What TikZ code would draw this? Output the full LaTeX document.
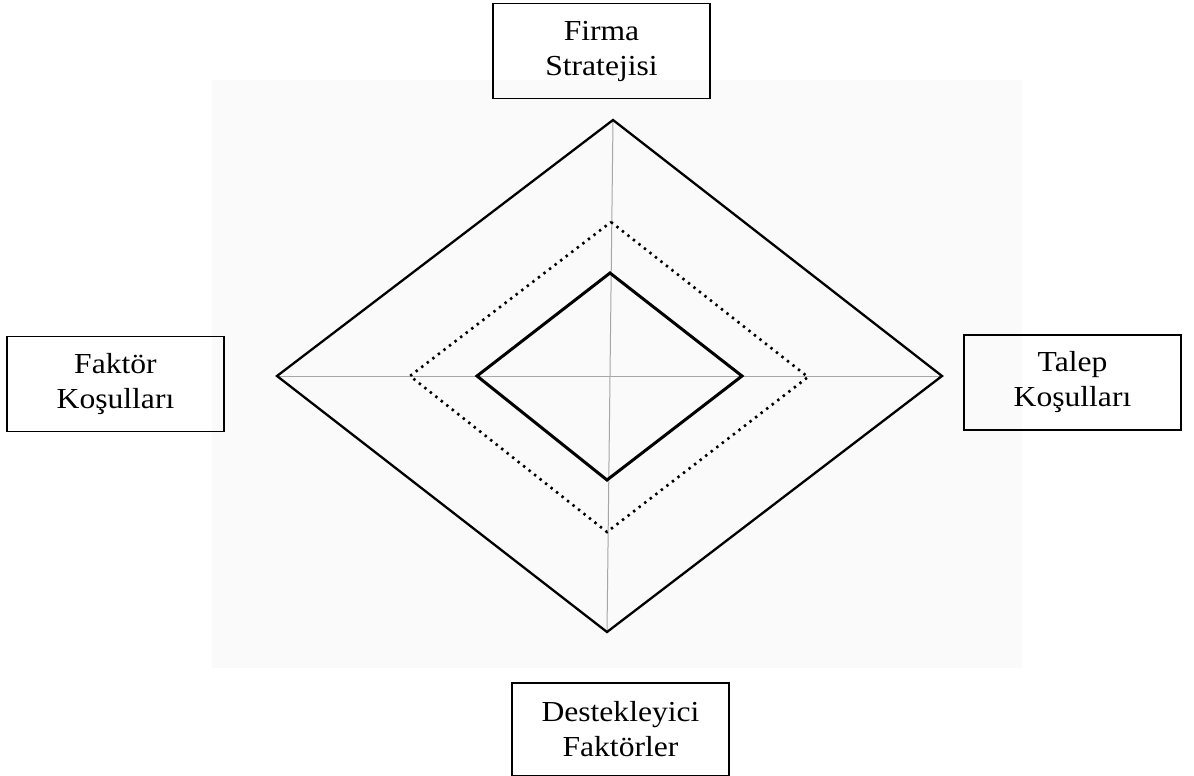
\documentclass[tikz,border=0pt]{standalone}
\usepackage{fontspec}
\setmainfont{Liberation Serif}[FakeStretch=1.09]
\begin{document}
\begin{tikzpicture}[x=1pt,y=-1pt,
  lbl/.style={draw,line width=1.6pt,minimum width=217pt,minimum height=95pt,align=center,
    font=\fontsize{29}{35}\selectfont,inner sep=0pt},
  axis/.style={draw=black!35,line width=1pt},
  outer/.style={line width=2.3pt,line join=miter},
  inner/.style={line width=3pt,line join=miter},
  dots/.style={line width=2.6pt,dash pattern=on 2.4pt off 4.6pt}]
\useasboundingbox (0,0) rectangle (1194,776);
\fill[black!2] (212,80) rectangle (1022,668);
% boxes
\node[lbl] (firma) at (601.5,51) {Firma\\Stratejisi};
\node[lbl] (faktor) at (115.5,384) {Faktör\\Koşulları};
\node[lbl] (talep) at (1072.5,382.5) {Talep\\Koşulları};
\node[lbl,minimum height=93pt] (destek) at (620.5,729.5) {Destekleyici\\Faktörler};
% vertices
\coordinate (ot) at (613,120); \coordinate (ol) at (277,376);
\coordinate (or) at (942,376); \coordinate (ob) at (607,632);
\coordinate (dt) at (611,222); \coordinate (dl) at (410,376);
\coordinate (dr) at (808,377); \coordinate (db) at (607,532);
\coordinate (it) at (610,273); \coordinate (il) at (477,376);
\coordinate (ir) at (742,376); \coordinate (ib) at (607,480);
% axes
\draw[axis] (ot) -- (ob);
\draw[axis] (ol) -- (or);
% diamonds
\draw[outer] (ot) -- (or) -- (ob) -- (ol) -- cycle;
\draw[dots] (dt) -- (dr) -- (db) -- (dl) -- cycle;
\draw[inner] (it) -- (ir) -- (ib) -- (il) -- cycle;
\end{tikzpicture}
\end{document}
